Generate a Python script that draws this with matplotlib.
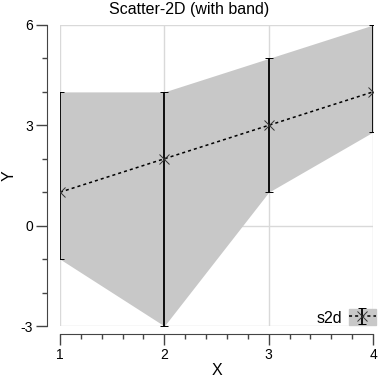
import matplotlib.pyplot as plt
from matplotlib.patches import Patch
from matplotlib.ticker import MultipleLocator

x = [1, 2, 3, 4]
y = [1, 2, 3, 4]
y_low = [-1, -3, 1, 2.8]
y_high = [4, 4, 5, 6]

plt.rcParams['font.family'] = ['Liberation Sans', 'DejaVu Sans']
plt.rcParams['axes.unicode_minus'] = False

PX = 72 / 100  # points per pixel at dpi 100


def draw(ax):
    band = ax.fill_between(x, y_low, y_high, color='#c8c8c8', lw=0, zorder=1)
    err_lo = [yy - lo for yy, lo in zip(y, y_low)]
    err_hi = [hi - yy for yy, hi in zip(y, y_high)]
    eb = ax.errorbar(x, y, yerr=[err_lo, err_hi], fmt='x', color='black',
                     ecolor='black', elinewidth=1.3, capsize=3, capthick=1.3,
                     markersize=7, markeredgewidth=0.7, mec='#333333', zorder=3)
    line, = ax.plot(x, y, ls=(0, (2, 2)), color='black', lw=1.1, zorder=2)
    return band, eb, line


fig = plt.figure(figsize=(3.78, 3.78), dpi=100)
ax = fig.add_axes([60 / 378, 52 / 378, 313 / 378, 301 / 378])
band, eb, line = draw(ax)

ax.set_xlim(1, 4)
ax.set_ylim(-3, 6)
ax.xaxis.set_major_locator(MultipleLocator(1))
ax.xaxis.set_minor_locator(MultipleLocator(0.2))
ax.yaxis.set_major_locator(MultipleLocator(3))
ax.yaxis.set_minor_locator(MultipleLocator(1))
ax.grid(True, which='major', color='#d9d9d9', lw=1)
ax.set_axisbelow(True)

for s in ['top', 'right']:
    ax.spines[s].set_visible(False)
ax.spines['left'].set_position(('outward', 13 * PX))
ax.spines['bottom'].set_position(('outward', 8 * PX))
for s in ['left', 'bottom']:
    ax.spines[s].set_color('#444444')
ax.tick_params(which='major', length=11 * PX, width=1, color='#444444',
               labelsize=10, pad=2)
ax.tick_params(which='minor', length=5 * PX, width=1, color='#444444')

fig.suptitle('Scatter-2D (with band)', fontsize=11.5, y=0.995, va='top')
ax.set_xlabel('X', fontsize=11.5, labelpad=1)
ax.set_ylabel('Y', fontsize=11.5, labelpad=3)

ax.legend([(Patch(color='#c8c8c8'), line, eb)], ['s2d'], loc='lower right',
          frameon=False, markerfirst=False, fontsize=11.5, handlelength=1.7,
          handleheight=1.2, handletextpad=0.4, borderaxespad=0,
          bbox_to_anchor=(1.03, -0.02))

fig.savefig('out.png', dpi=100)
